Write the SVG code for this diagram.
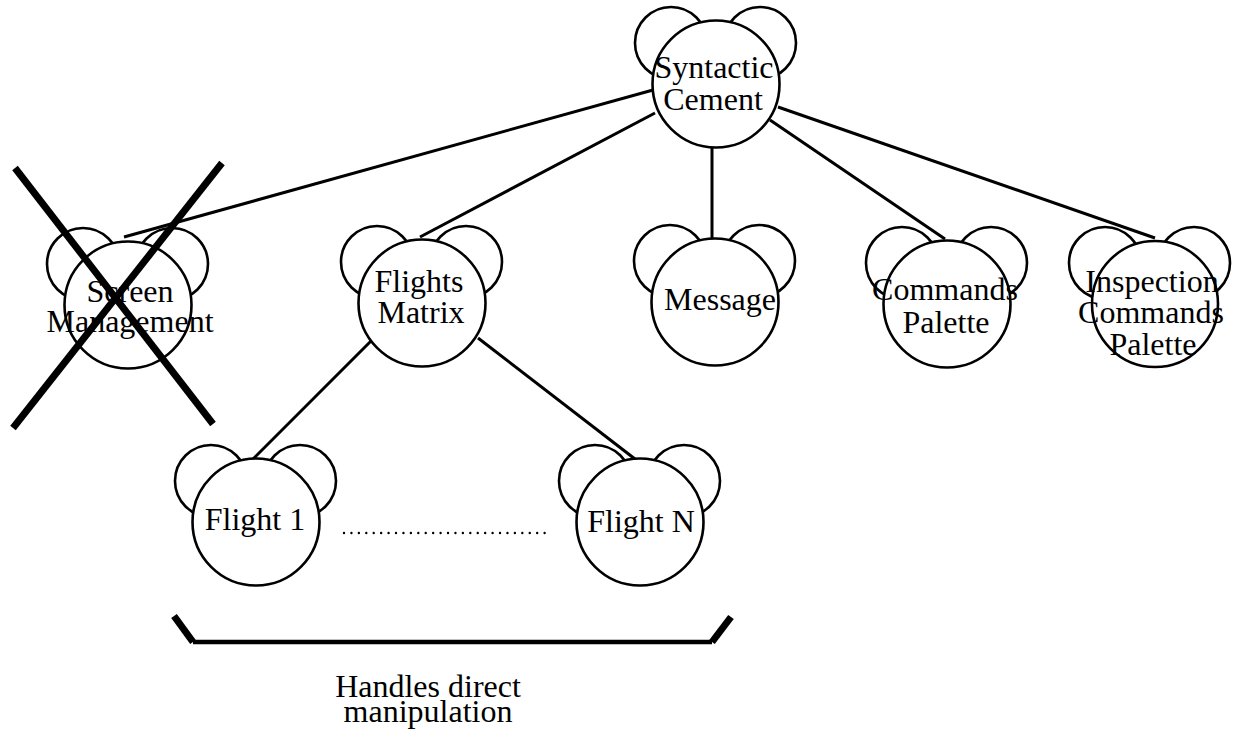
<svg xmlns="http://www.w3.org/2000/svg" width="1241" height="738" viewBox="0 0 1241 738">
  <style>
    .ear, .head { fill: #fff; stroke: #000; stroke-width: 2.6; }
    .edge { stroke: #000; stroke-width: 3; fill: none; }
    .label { font-family: "Liberation Serif", "Times New Roman", serif; font-size: 32px; fill: #000; text-anchor: middle; }
    .cross { stroke: #000; stroke-width: 7; fill: none; }
  </style>
  <defs>
    <!-- bear-head node shape: two ears behind a round head, centred on 0,0 -->
    <g id="bear">
      <circle class="ear" cx="-45" cy="-41" r="36"/>
      <circle class="ear" cx="44" cy="-41" r="36"/>
      <circle class="head" cx="0" cy="0" r="63.5"/>
    </g>
  </defs>
  <rect width="1241" height="738" fill="#fff"/>

  <g id="connectors">
    <line class="edge" x1="653" y1="90" x2="124" y2="237"/>
    <line class="edge" x1="655" y1="113" x2="420" y2="237"/>
    <line class="edge" x1="712" y1="147" x2="712" y2="239"/>
    <line class="edge" x1="770" y1="120" x2="945" y2="239"/>
    <line class="edge" x1="778" y1="107" x2="1155" y2="238"/>
    <line class="edge" x1="372" y1="340" x2="253" y2="459"/>
    <line class="edge" x1="478" y1="338" x2="635" y2="459"/>
  </g>

  <g id="syntactic-cement">
    <use href="#bear" x="716" y="84"/>
    <text class="label" x="714" y="78">Syntactic</text>
    <text class="label" x="713" y="110">Cement</text>
  </g>

  <g id="screen-management">
    <use href="#bear" x="128" y="305"/>
    <text class="label" x="130" y="302">Screen</text>
    <text class="label" x="130" y="332">Management</text>
    <!-- struck-out marker -->
    <line class="cross" x1="15" y1="168" x2="213" y2="424"/>
    <line class="cross" x1="222" y1="163" x2="13" y2="428"/>
  </g>

  <g id="flights-matrix">
    <use href="#bear" x="422" y="303"/>
    <text class="label" x="419" y="292">Flights</text>
    <text class="label" x="421" y="323">Matrix</text>
  </g>

  <g id="message">
    <use href="#bear" x="715" y="302"/>
    <text class="label" x="720" y="310">Message</text>
  </g>

  <g id="commands-palette">
    <use href="#bear" x="947" y="304"/>
    <text class="label" x="945" y="300">Commands</text>
    <text class="label" x="946" y="333">Palette</text>
  </g>

  <g id="inspection-commands-palette">
    <circle class="ear" cx="1105" cy="263" r="36"/>
    <circle class="ear" cx="1194" cy="263" r="36"/>
    <circle class="head" cx="1155" cy="304" r="63"/>
    <text class="label" x="1152" y="292">Inspection</text>
    <text class="label" x="1151" y="323">Commands</text>
    <text class="label" x="1153" y="355">Palette</text>
  </g>

  <g id="flight-1">
    <use href="#bear" x="256" y="522"/>
    <text class="label" x="255" y="530">Flight 1</text>
  </g>

  <g id="flight-n">
    <use href="#bear" x="640" y="522"/>
    <text class="label" x="641" y="532">Flight N</text>
  </g>

  <!-- ellipsis between the first and last flight -->
  <line x1="344" y1="533" x2="552" y2="533" stroke="#000" stroke-width="2.4" stroke-linecap="round" stroke-dasharray="0 7.43"/>

  <g id="bracket">
    <line x1="193" y1="642" x2="712" y2="642" stroke="#000" stroke-width="4.5"/>
    <line x1="174" y1="616" x2="193" y2="642" stroke="#000" stroke-width="7"/>
    <line x1="712" y1="642" x2="731" y2="617" stroke="#000" stroke-width="7"/>
  </g>

  <g id="bracket-caption">
    <text class="label" x="428" y="697">Handles direct</text>
    <text class="label" x="428" y="722">manipulation</text>
  </g>
</svg>
